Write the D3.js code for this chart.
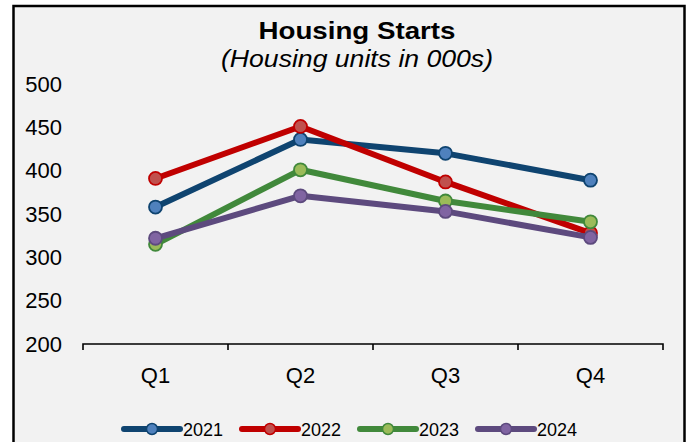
<!DOCTYPE html>
<html>
<head>
<meta charset="utf-8">
<script src="https://cdn.jsdelivr.net/npm/d3@7"></script>
<style>
	body { margin: 0; background: #fff; }
	svg { display: block; font-family: "Liberation Sans", Arial, sans-serif; }
</style>
</head>
<body>
<svg id="chart" width="689" height="442"></svg>
<script>
let quarters = ["Q1", "Q2", "Q3", "Q4"];
let years = ["2021", "2022", "2023", "2024"];
let v2021 = [358, 436, 420, 389];
let v2022 = [391, 451, 387, 328];
let v2023 = [315, 401, 365, 341];
let v2024 = [322, 371, 353, 323];
let yTicks = [200, 250, 300, 350, 400, 450, 500];

let series = [
	{name: years[0], values: v2021, line: "#0f4470", fill: "#4f81bd"},
	{name: years[1], values: v2022, line: "#c00000", fill: "#c0504d"},
	{name: years[2], values: v2023, line: "#41893b", fill: "#9bbb59"},
	{name: years[3], values: v2024, line: "#5d4a7e", fill: "#8064a2"}
];

let svg = d3.select("#chart");

// chart area frame
svg.append("rect")
	.attr("x", 13.5).attr("y", 6)
	.attr("width", 671).attr("height", 460)
	.attr("fill", "#f2f2f2")
	.attr("stroke", "#000")
	.attr("stroke-width", 2.5);

let band = d3.scaleBand()
	.domain(quarters)
	.range([83, 663]);
let x = q => band(q) + band.bandwidth() / 2;
let y = d3.scaleLinear()
	.domain([200, 500])
	.range([344, 84]);

// titles
svg.append("text")
	.attr("x", 357).attr("y", 39)
	.attr("text-anchor", "middle")
	.attr("font-size", 24)
	.attr("font-weight", "bold")
	.attr("textLength", 197)
	.attr("lengthAdjust", "spacingAndGlyphs")
	.text("Housing Starts");
svg.append("text")
	.attr("x", 357).attr("y", 67)
	.attr("text-anchor", "middle")
	.attr("font-size", 24)
	.attr("font-style", "italic")
	.attr("textLength", 272)
	.attr("lengthAdjust", "spacingAndGlyphs")
	.text("(Housing units in 000s)");

// y axis labels, no axis line
let ya = svg.append("g")
	.attr("transform", "translate(62,0)")
	.call(d3.axisLeft(y).tickValues(yTicks).tickSize(0).tickPadding(0));
ya.select(".domain").remove();
ya.selectAll("text")
	.attr("font-size", 22)
	.attr("font-family", "Liberation Sans, Arial, sans-serif")
	.attr("fill", "#000");

// x axis
let xa = svg.append("g")
	.attr("transform", "translate(0,344)");
xa.append("path")
	.attr("d", "M83,6V0H663V6")
	.attr("fill", "none")
	.attr("stroke", "#000")
	.attr("stroke-width", 1.6);
xa.selectAll("line.tick")
	.data(quarters.slice(1))
	.join("line")
	.attr("class", "tick")
	.attr("x1", d => band(d)).attr("x2", d => band(d))
	.attr("y1", 0).attr("y2", 6)
	.attr("stroke", "#000")
	.attr("stroke-width", 1.6);
xa.selectAll("text")
	.data(quarters)
	.join("text")
	.attr("x", d => x(d))
	.attr("y", 39)
	.attr("text-anchor", "middle")
	.attr("font-size", 22)
	.text(d => d);

// lines + markers
let line = d3.line()
	.x((d, i) => x(quarters[i]))
	.y(d => y(d));
series.forEach(s => {
	let g = svg.append("g");
	g.append("path")
		.attr("d", line(s.values))
		.attr("fill", "none")
		.attr("stroke", s.line)
		.attr("stroke-width", 6)
		.attr("stroke-linejoin", "round");
	g.selectAll("circle")
		.data(s.values)
		.join("circle")
		.attr("cx", (d, i) => x(quarters[i]))
		.attr("cy", d => y(d))
		.attr("r", 6.5)
		.attr("fill", s.fill)
		.attr("stroke", s.line)
		.attr("stroke-width", 1.8);
});

// legend
let legend = svg.append("g")
	.attr("transform", "translate(124,429)");
let items = legend.selectAll("g")
	.data(series)
	.join("g")
	.attr("transform", (d, i) => `translate(${i * 118},0)`);
items.append("line")
	.attr("x1", 0).attr("x2", 56)
	.attr("stroke", d => d.line)
	.attr("stroke-width", 6)
	.attr("stroke-linecap", "round");
items.append("circle")
	.attr("cx", 28)
	.attr("r", 5.5)
	.attr("fill", d => d.fill)
	.attr("stroke", d => d.line)
	.attr("stroke-width", 1.5);
items.append("text")
	.attr("x", 59)
	.attr("y", 7)
	.attr("font-size", 18)
	.text(d => d.name);
</script>
</body>
</html>
